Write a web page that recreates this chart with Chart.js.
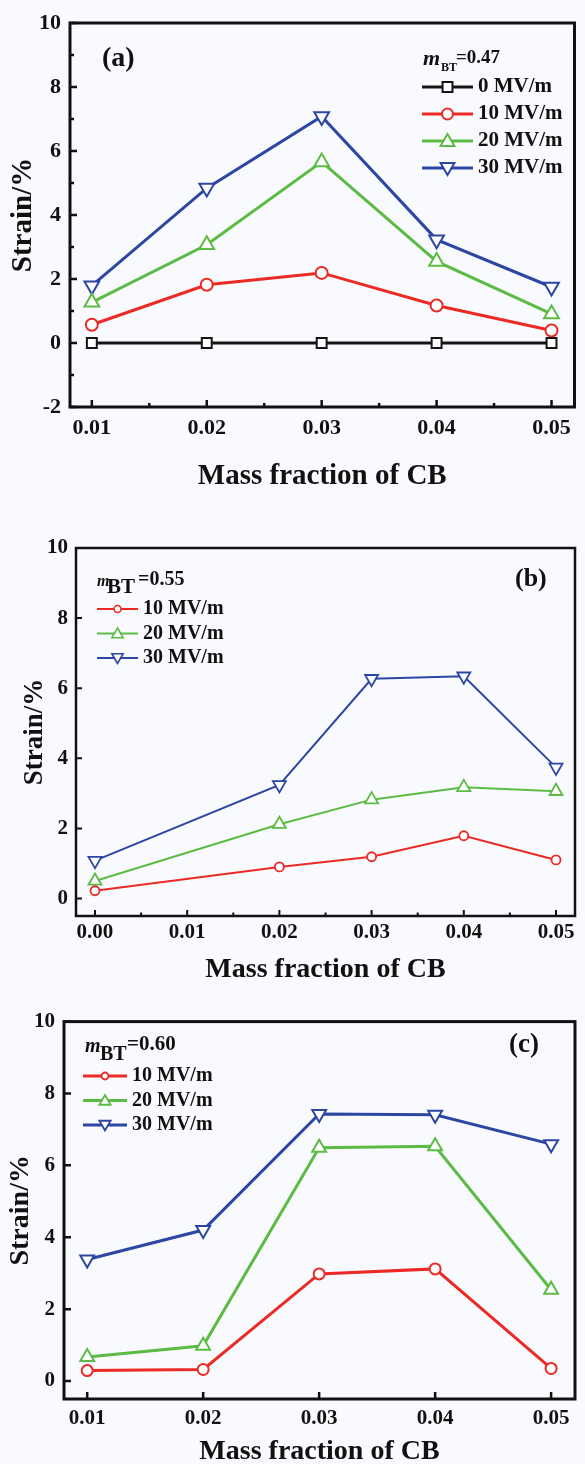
<!DOCTYPE html>
<html><head><meta charset="utf-8">
<script src="https://cdn.jsdelivr.net/npm/chart.js@4.4.0/dist/chart.umd.min.js"></script>
<style>
html,body{margin:0;padding:0;background:#f9fafd;overflow:hidden;width:585px;height:1464px;position:relative;}
canvas{position:absolute;left:0;}
</style></head><body>
<canvas id="ca" width="585" height="500" style="top:0px;width:585px;height:500px"></canvas>
<canvas id="cb" width="585" height="480" style="top:520px;width:585px;height:480px"></canvas>
<canvas id="cc" width="585" height="490" style="top:1000px;width:585px;height:490px"></canvas>
<script>
// ---------- data ----------
const xA = [0.01, 0.02, 0.03, 0.04, 0.05];
const a0  = [0, 0, 0, 0, 0];
const a10 = [0.57, 1.82, 2.19, 1.17, 0.39];
const a20 = [1.27, 3.07, 5.66, 2.55, 0.91];
const a30 = [1.79, 4.84, 7.08, 3.23, 1.75];

const xB = [0.00, 0.02, 0.03, 0.04, 0.05];
const b10 = [0.22, 0.90, 1.19, 1.79, 1.10];
const b20 = [0.50, 2.12, 2.82, 3.17, 3.06];
const b30 = [1.08, 3.24, 6.27, 6.34, 3.74];

const xC = [0.01, 0.02, 0.03, 0.04, 0.05];
const c10 = [0.29, 0.32, 2.98, 3.12, 0.35];
const c20 = [0.67, 0.98, 6.49, 6.53, 2.54];
const c30 = [3.38, 4.20, 7.43, 7.41, 6.59];

const labelsA = ['0 MV/m', '10 MV/m', '20 MV/m', '30 MV/m'];
const labelsBC = ['10 MV/m', '20 MV/m', '30 MV/m'];
const xTicksA = [0.01, 0.02, 0.03, 0.04, 0.05];
const xTicksB = [0.00, 0.01, 0.02, 0.03, 0.04, 0.05];
const xTicksC = [0.01, 0.02, 0.03, 0.04, 0.05];
const yTicksA = [-2, 0, 2, 4, 6, 8, 10];
const yTicksBC = [0, 2, 4, 6, 8, 10];
const mBT = ['0.47', '0.55', '0.60'];
const tags = ['(a)', '(b)', '(c)'];
const xTitle = 'Mass fraction of CB';
const yTitle = 'Strain/%';

// ---------- styling ----------
const COL = {k: '#151515', r: '#ec2a25', g: '#5cbb44', b: '#2d46a3'};
const FF = "'Liberation Serif','Times New Roman',serif";

function ds(label, xs, ys, color, style, rot, radius, lw, bw) {
  return {
    label, data: xs.map((x, i) => ({x: x, y: ys[i]})),
    borderColor: color, backgroundColor: '#ffffff',
    pointStyle: style, pointRotation: rot, pointRadius: radius,
    pointBorderColor: color, pointBackgroundColor: '#ffffff', pointBorderWidth: bw,
    borderWidth: lw, tension: 0, fill: false, clip: false
  };
}

function marker(ctx, style, rot, r, x, y, color, bw) {
  ctx.save();
  ctx.translate(x, y);
  ctx.rotate(rot * Math.PI / 180);
  ctx.beginPath();
  if (style === 'circle') ctx.arc(0, 0, r, 0, Math.PI * 2);
  else if (style === 'rect') { const s = r * Math.SQRT1_2; ctx.rect(-s, -s, 2 * s, 2 * s); }
  else if (style === 'triangle') {
    for (let k = 0; k < 3; k++) {
      const a = k * 2 * Math.PI / 3;
      const px = Math.sin(a) * r, py = -Math.cos(a) * r;
      if (k === 0) ctx.moveTo(px, py); else ctx.lineTo(px, py);
    }
    ctx.closePath();
  }
  ctx.fillStyle = '#ffffff'; ctx.fill();
  ctx.strokeStyle = color; ctx.lineWidth = bw; ctx.stroke();
  ctx.restore();
}

function makePanel(id, P) {
  const deco = {
    id: 'deco_' + id,
    afterDraw(chart) {
      const ctx = chart.ctx, ca = chart.chartArea;
      const xs = chart.scales.x, ys = chart.scales.y;
      ctx.save();
      ctx.strokeStyle = '#111'; ctx.lineWidth = P.tickW; ctx.lineCap = 'butt';
      ctx.beginPath();
      P.xTicks.forEach(v => { const p = xs.getPixelForValue(v); ctx.moveTo(p, ca.bottom); ctx.lineTo(p, ca.bottom - P.major); });
      P.yTicks.forEach(v => { const p = ys.getPixelForValue(v); ctx.moveTo(ca.left, p); ctx.lineTo(ca.left + P.major, p); });
      if (P.xMinor) for (let i = 0; i < P.xTicks.length - 1; i++) {
        const p = xs.getPixelForValue((P.xTicks[i] + P.xTicks[i + 1]) / 2);
        ctx.moveTo(p, ca.bottom); ctx.lineTo(p, ca.bottom - P.minor);
      }
      if (P.yMinor) for (let i = 0; i < P.yTicks.length - 1; i++) {
        const p = ys.getPixelForValue((P.yTicks[i] + P.yTicks[i + 1]) / 2);
        ctx.moveTo(ca.left, p); ctx.lineTo(ca.left + P.minor, p);
      }
      ctx.stroke();
      ctx.lineWidth = P.frameW;
      ctx.strokeRect(ca.left, ca.top, ca.right - ca.left, ca.bottom - ca.top);

      // legend
      const L = P.legend;
      ctx.fillStyle = '#111'; ctx.textBaseline = 'middle'; ctx.textAlign = 'left';
      ctx.font = 'italic bold ' + L.mSize + 'px ' + FF; ctx.fillText('m', L.mX, L.mY);
      ctx.font = 'bold ' + L.btSize + 'px ' + FF; ctx.fillText('BT', L.btX, L.btY);
      ctx.font = 'bold ' + L.eqSize + 'px ' + FF; ctx.fillText('=' + P.mbt, L.eqX, L.eqY);
      chart.data.datasets.forEach((d, i) => {
        const y = L.y0 + i * L.dy;
        ctx.strokeStyle = d.borderColor; ctx.lineWidth = L.lw;
        ctx.beginPath(); ctx.moveTo(L.x1, y); ctx.lineTo(L.x2, y); ctx.stroke();
        const r = d.pointStyle === 'circle' ? L.rc : (d.pointStyle === 'rect' ? L.rr : L.rt);
        marker(ctx, d.pointStyle, d.pointRotation, r, (L.x1 + L.x2) / 2, y + (d.pointStyle === 'triangle' ? (d.pointRotation ? -1 : 1) : 0), d.borderColor, L.bw);
        ctx.fillStyle = '#111'; ctx.font = 'bold ' + L.size + 'px ' + FF;
        ctx.fillText(d.label, L.tx, y);
      });
      // panel tag
      ctx.font = 'bold ' + P.tag.size + 'px ' + FF;
      ctx.fillText(P.tag.text, P.tag.x, P.tag.y);
      ctx.restore();
    }
  };

  return new Chart(document.getElementById(id), {
    type: 'line',
    data: {datasets: P.datasets},
    options: {
      responsive: false, animation: false, devicePixelRatio: 1,
      layout: {padding: P.pad},
      plugins: {legend: {display: false}, tooltip: {enabled: false}},
      scales: {
        x: {
          type: 'linear', min: P.xMin, max: P.xMax,
          grid: {display: false, drawTicks: false}, border: {display: false},
          afterBuildTicks: s => { s.ticks = P.xTicks.map(v => ({value: v})); },
          afterFit: s => { s.height = P.xH; },
          ticks: {padding: P.xPad, color: '#111', font: {family: FF, size: P.tickSize, weight: 'bold'},
                  maxRotation: 0, autoSkip: false, callback: v => Number(v).toFixed(2)},
          title: {display: true, text: xTitle, color: '#111', padding: {top: 0, bottom: P.xTitlePad},
                  font: {family: FF, size: P.xTitleSize, weight: 'bold'}}
        },
        y: {
          type: 'linear', min: P.yMin, max: P.yMax,
          grid: {display: false, drawTicks: false}, border: {display: false},
          afterBuildTicks: s => { s.ticks = P.yTicks.map(v => ({value: v})); },
          afterFit: s => { s.width = P.yW; },
          ticks: {padding: P.yPad, color: '#111', font: {family: FF, size: P.tickSize, weight: 'bold'},
                  autoSkip: false, callback: v => String(v)},
          title: {display: true, text: yTitle, color: '#111', padding: {top: P.yTitlePad, bottom: 0},
                  font: {family: FF, size: P.yTitleSize, weight: 'bold'}}
        }
      }
    },
    plugins: [deco]
  });
}

// panel (a)
makePanel('ca', {
  datasets: [
    ds(labelsA[0], xA, a0, COL.k, 'rect', 0, 7, 3, 2),
    ds(labelsA[1], xA, a10, COL.r, 'circle', 0, 6, 3, 2),
    ds(labelsA[2], xA, a20, COL.g, 'triangle', 0, 8.5, 3, 2),
    ds(labelsA[3], xA, a30, COL.b, 'triangle', 180, 8.5, 3, 2)
  ],
  xMin: 0.0081, xMax: 0.052, yMin: -2, yMax: 10,
  xTicks: xTicksA, yTicks: yTicksA, xMinor: true, yMinor: true,
  pad: {top: 23, right: 2, left: 0, bottom: 0}, yW: 70, xH: 93,
  tickSize: 22, xPad: 8, yPad: 9, xTitleSize: 29, xTitlePad: 5.6, yTitleSize: 29, yTitlePad: 6.6,
  tickW: 2.5, frameW: 3, major: 7, minor: 4,
  mbt: mBT[0],
  legend: {mSize: 22, mX: 423, mY: 59, btSize: 12, btX: 441, btY: 68, eqSize: 19, eqX: 456, eqY: 58,
           y0: 87, dy: 27, x1: 422, x2: 473, tx: 478, size: 21, lw: 3, rc: 5.5, rr: 7, rt: 8, bw: 2},
  tag: {text: tags[0], x: 102, y: 59, size: 28}
});

// panel (b)
makePanel('cb', {
  datasets: [
    ds(labelsBC[0], xB, b10, COL.r, 'circle', 0, 4.5, 2, 1.8),
    ds(labelsBC[1], xB, b20, COL.g, 'triangle', 0, 7.5, 2, 1.8),
    ds(labelsBC[2], xB, b30, COL.b, 'triangle', 180, 7.5, 2, 1.8)
  ],
  xMin: -0.00206, xMax: 0.05206, yMin: -0.5, yMax: 10,
  xTicks: xTicksB, yTicks: yTicksBC, xMinor: true, yMinor: false,
  pad: {top: 28, right: 10, left: 0, bottom: 0}, yW: 76, xH: 84,
  tickSize: 21, xPad: 4.4, yPad: 8, xTitleSize: 28, xTitlePad: 13.2, yTitleSize: 27, yTitlePad: 18.8,
  tickW: 2, frameW: 2.5, major: 6, minor: 3.5,
  mbt: mBT[1],
  legend: {mSize: 16, mX: 97, mY: 62, btSize: 21, btX: 107, btY: 68, eqSize: 20, eqX: 138, eqY: 60,
           y0: 89, dy: 24.5, x1: 97, x2: 138, tx: 143, size: 20, lw: 2, rc: 3.5, rr: 5, rt: 6.5, bw: 1.6},
  tag: {text: tags[1], x: 515, y: 59, size: 26}
});

// panel (c)
makePanel('cc', {
  datasets: [
    ds(labelsBC[0], xC, c10, COL.r, 'circle', 0, 5.5, 3, 2),
    ds(labelsBC[1], xC, c20, COL.g, 'triangle', 0, 8, 3, 2),
    ds(labelsBC[2], xC, c30, COL.b, 'triangle', 180, 8, 3, 2)
  ],
  xMin: 0.008, xMax: 0.05206, yMin: -0.5, yMax: 10,
  xTicks: xTicksC, yTicks: yTicksBC, xMinor: false, yMinor: false,
  pad: {top: 19, right: 7, left: 0, bottom: 0}, yW: 64, xH: 91,
  tickSize: 21, xPad: 7.4, yPad: 9, xTitleSize: 28, xTitlePad: 21.2, yTitleSize: 28, yTitlePad: 3.7,
  tickW: 2.5, frameW: 3, major: 7, minor: 4,
  mbt: mBT[2],
  legend: {mSize: 20, mX: 85, mY: 47, btSize: 20, btX: 100, btY: 55, eqSize: 21, eqX: 127, eqY: 45,
           y0: 76, dy: 24.5, x1: 83, x2: 127, tx: 132, size: 20, lw: 3, rc: 3.5, rr: 5, rt: 6.5, bw: 1.8},
  tag: {text: tags[2], x: 509, y: 45, size: 27}
});
</script>
</body></html>
